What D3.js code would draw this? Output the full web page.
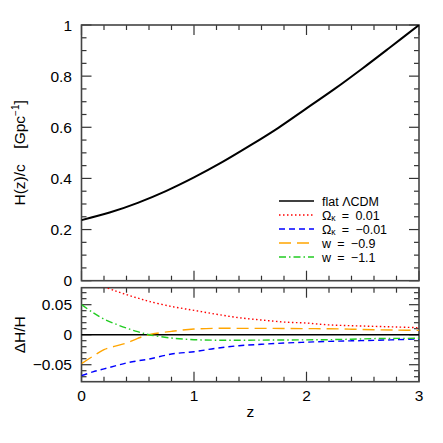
<!DOCTYPE html>
<html><head><meta charset="utf-8">
<script src="https://cdn.jsdelivr.net/npm/d3@7"></script>
<style>body{margin:0;background:#fff}svg{display:block}text{font-family:"Liberation Sans",Arial,sans-serif}</style>
</head><body>
<script>
// Top panel: H(z)/c [Gpc^-1] for flat LCDM
const zTop = [0, 0.25, 0.5, 0.75, 1.0, 1.25, 1.5, 1.75, 2.0, 2.25, 2.5, 2.75, 3.0];
const hTop = [0.237, 0.2665, 0.3045, 0.3505, 0.404, 0.4635, 0.529, 0.598, 0.674, 0.750, 0.831, 0.915, 1.0];

// Bottom panel: Delta H / H
const zBot = [0, 0.1, 0.2, 0.3, 0.4, 0.5, 0.6, 0.8, 1.0, 1.2, 1.4, 1.6, 1.8, 2.0, 2.2, 2.4, 2.6, 2.8, 3.0];
const dOkPos = [null, null, 0.080, 0.073, 0.0667, 0.061, 0.0556, 0.047, 0.0406, 0.034, 0.0283, 0.0245, 0.0211, 0.0194, 0.0163, 0.0150, 0.0139, 0.0128, 0.0117];
const dOkNeg = [-0.0683, -0.062, -0.057, -0.052, -0.047, -0.0435, -0.0406, -0.0322, -0.0283, -0.0225, -0.0183, -0.016, -0.0139, -0.0125, -0.0111, -0.0102, -0.0094, -0.0083, -0.0072];
const dWm09 = [-0.0483, -0.036, -0.025, -0.019, -0.0139, -0.006, 0.0, 0.0056, 0.0094, 0.0106, 0.0106, 0.0106, 0.0104, 0.0101, 0.0099, 0.0092, 0.0083, 0.0077, 0.0072];
const dWm11 = [0.050, 0.037, 0.026, 0.018, 0.011, 0.005, 0.0, -0.0056, -0.0083, -0.0092, -0.0092, -0.0090, -0.0088, -0.0086, -0.0083, -0.0075, -0.0065, -0.0062, -0.0060];

const xTickLabels = ["0", "1", "2", "3"];
const yTopTickLabels = ["0", "0.2", "0.4", "0.6", "0.8", "1"];
const yBotTickLabels = ["\u22120.05", "0", "0.05"];

const legendLabels = ["flat \u039BCDM", "\u03A9|\u03BA\u2002=\u20020.01", "\u03A9|\u03BA\u2002=\u2002\u22120.01", "w\u2002=\u2002\u22120.9", "w\u2002=\u2002\u22121.1"];
const colors = ["#000000", "#ff0000", "#0000ff", "#ffa500", "#22cc22"];
const dashes = [null, "1.5,2.5", "6,4", "12,6", "7,3,1.5,3"];

const W = 443, H = 443;
const svg = d3.select("body").append("svg").attr("width", W).attr("height", H);

const L = 81.5, R = 419;
const topT = 25, topB = 280.7, botT = 287.7, botB = 381.7;

const x = d3.scaleLinear().domain([0, 3]).range([L, R]);
const yT = d3.scaleLinear().domain([0, 1]).range([topB, topT]);
const yB = d3.scaleLinear().domain([-0.0783, 0.0783]).range([botB, botT]);

const tickCol = "#333";
function ticksPanel(y, yMajor, yMinor, top, bot) {
  const g = svg.append("g");
  const xMajor = d3.range(0, 3.001, 1);
  const xMinor = d3.range(0, 3.001, 0.2).filter(v => Math.abs(v - Math.round(v)) > 1e-6);
  const add = (x1, y1, x2, y2) => g.append("line").attr("x1", x1).attr("y1", y1).attr("x2", x2).attr("y2", y2)
      .attr("stroke", tickCol).attr("stroke-width", 1.2);
  xMajor.forEach(v => { add(x(v), bot, x(v), bot - 10); add(x(v), top, x(v), top + 10); });
  xMinor.forEach(v => { add(x(v), bot, x(v), bot - 5); add(x(v), top, x(v), top + 5); });
  yMajor.forEach(v => { add(L, y(v), L + 10, y(v)); add(R, y(v), R - 10, y(v)); });
  yMinor.forEach(v => { add(L, y(v), L + 5, y(v)); add(R, y(v), R - 5, y(v)); });
  g.append("rect").attr("x", L).attr("y", top).attr("width", R - L).attr("height", bot - top)
    .attr("fill", "none").attr("stroke", "#444").attr("stroke-width", 1.6);
}

const topMajor = d3.range(0, 1.001, 0.2);
const topMinor = d3.range(0, 1.001, 0.05).filter(v => Math.abs(v / 0.2 - Math.round(v / 0.2)) > 1e-6);
ticksPanel(yT, topMajor, topMinor, topT, topB);
const botMajor = [-0.05, 0, 0.05];
const botMinor = d3.range(-0.07, 0.0701, 0.01).filter(v => Math.abs(v / 0.05 - Math.round(v / 0.05)) > 1e-6);
ticksPanel(yB, botMajor, botMinor, botT, botB);

const fs = 15.5;
// y tick labels
topMajor.forEach((v, i) => svg.append("text").attr("x", 72).attr("y", yT(v) + 5.5).attr("text-anchor", "end")
  .attr("font-size", fs).text(yTopTickLabels[i]));
botMajor.forEach((v, i) => svg.append("text").attr("x", 72).attr("y", yB(v) + 5.5).attr("text-anchor", "end")
  .attr("font-size", fs).text(yBotTickLabels[i]));
// x tick labels
xTickLabels.forEach((t, i) => svg.append("text").attr("x", x(+t)).attr("y", 401).attr("text-anchor", "middle")
  .attr("font-size", fs).text(t));
svg.append("text").attr("x", x(1.5)).attr("y", 417).attr("text-anchor", "middle").attr("font-size", fs).text("z");

// y axis titles
const t1 = svg.append("text").attr("transform", `translate(25,${(topT + topB) / 2}) rotate(-90)`)
  .attr("text-anchor", "middle").attr("font-size", fs);
t1.append("tspan").text("H(z)/c\u2002\u2002[Gpc");
t1.append("tspan").attr("font-size", 10).attr("dy", -6).text("\u22121");
t1.append("tspan").attr("dy", 6).text("]");
svg.append("text").attr("transform", `translate(25,${yB(0)}) rotate(-90)`)
  .attr("text-anchor", "middle").attr("font-size", fs).text("\u0394H/H");

// top curve
svg.append("clipPath").attr("id", "ct").append("rect").attr("x", L).attr("y", topT).attr("width", R - L).attr("height", topB - topT);
const lineT = d3.line().x((d, i) => x(zTop[i])).y(d => yT(d)).curve(d3.curveCatmullRom);
svg.append("path").datum(hTop).attr("d", lineT).attr("fill", "none").attr("stroke", "#000").attr("stroke-width", 2)
  .attr("clip-path", "url(#ct)");

// bottom curves
svg.append("clipPath").attr("id", "cb").append("rect").attr("x", L).attr("y", botT).attr("width", R - L).attr("height", botB - botT);
svg.append("line").attr("x1", L).attr("x2", R).attr("y1", yB(0)).attr("y2", yB(0)).attr("stroke", "#000").attr("stroke-width", 1.6);
const seriesBot = [dOkPos, dOkNeg, dWm09, dWm11];
seriesBot.forEach((s, k) => {
  const pts = s.map((v, i) => [zBot[i], v]).filter(p => p[1] !== null);
  const ln = d3.line().x(p => x(p[0])).y(p => yB(p[1])).curve(d3.curveCatmullRom);
  svg.append("path").datum(pts).attr("d", ln).attr("fill", "none").attr("stroke", colors[k + 1])
    .attr("stroke-width", 1.4).attr("stroke-dasharray", dashes[k + 1]).attr("clip-path", "url(#cb)");
});

// legend
const lg = svg.append("g");
legendLabels.forEach((lab, i) => {
  const yy = 201 + i * 14;
  lg.append("line").attr("x1", 279).attr("x2", 314).attr("y1", yy).attr("y2", yy)
    .attr("stroke", colors[i]).attr("stroke-width", i === 0 ? 1.6 : 1.3).attr("stroke-dasharray", dashes[i]);
  const t = lg.append("text").attr("x", 322).attr("y", yy + 4.5).attr("font-size", 12.5);
  if (lab.includes("|")) {
    const [a, rest] = lab.split("|");
    t.append("tspan").text(a);
    t.append("tspan").attr("font-size", 8.5).attr("dy", 1.5).text(rest[0]);
    t.append("tspan").attr("dy", -1.5).text(rest.slice(1));
  } else t.text(lab);
});
</script>
</body></html>
